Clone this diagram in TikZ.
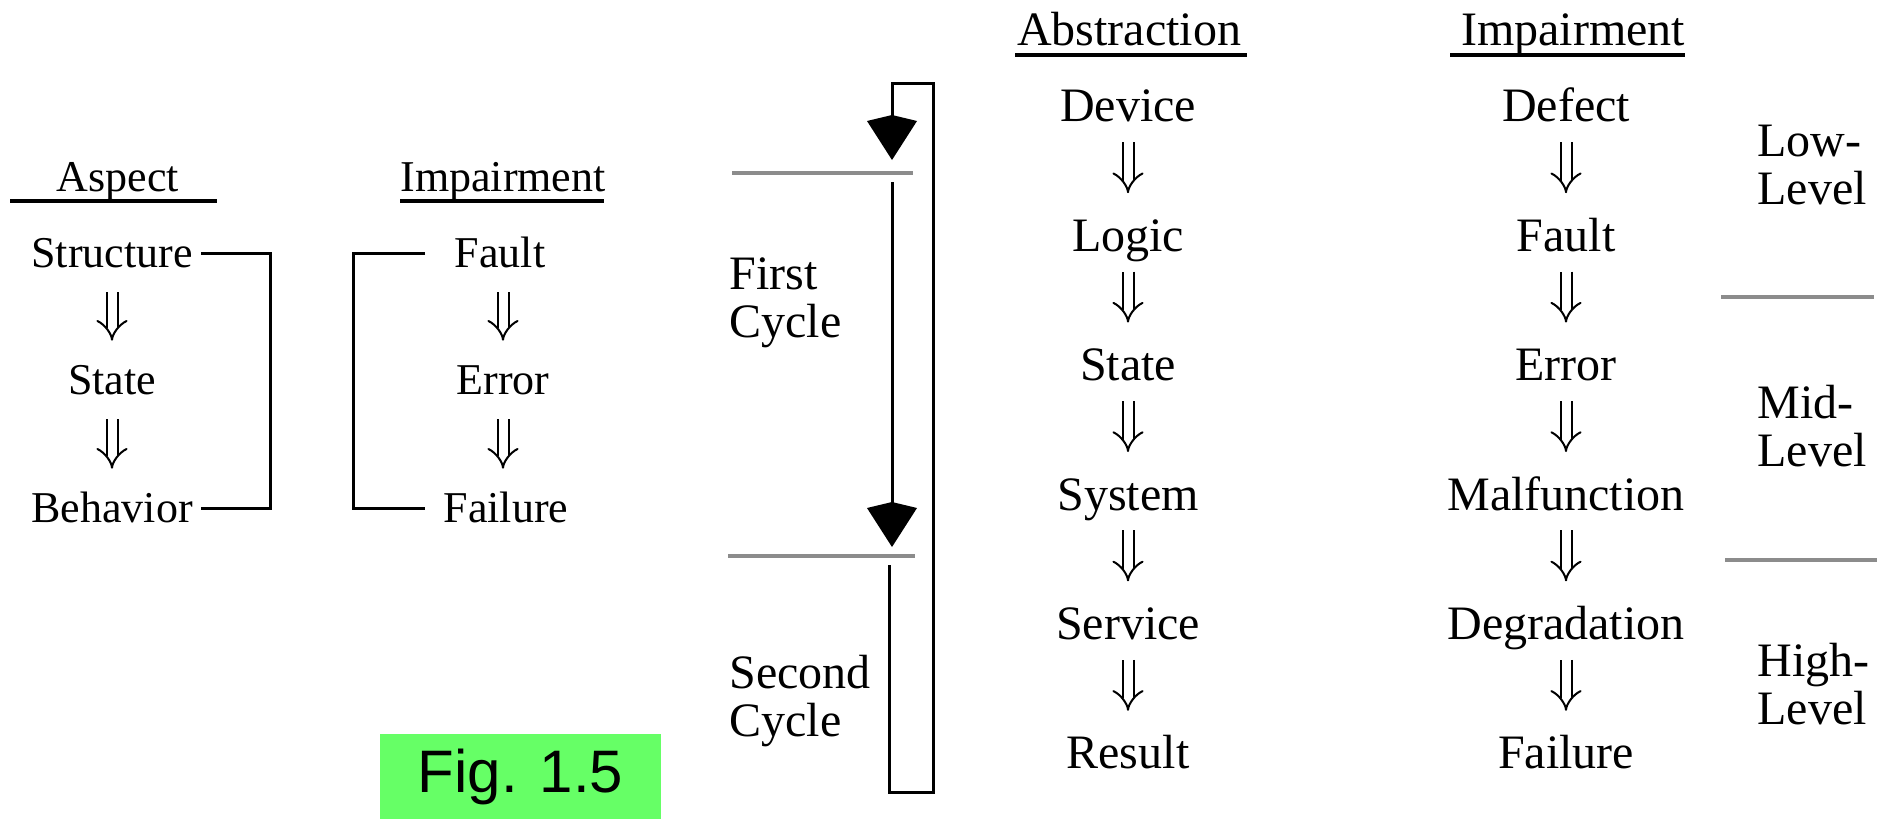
\documentclass[tikz,border=0pt]{standalone}
\usepackage{fontspec}
\setmainfont{Liberation Serif}
\newfontfamily\figfont{Liberation Sans}
\usetikzlibrary{arrows.meta,calc}

\definecolor{figgreen}{HTML}{66FF66}

\tikzset{
  word/.style={inner sep=0pt, text depth=0pt},
  lword/.style={word, text height=14.5pt, font=\fontsize{22}{22}\selectfont},
  rword/.style={word, text height=15.8pt, font=\fontsize{24}{24}\selectfont},
  imply/.style={double, double distance=4.5pt, line width=1pt, -{Implies}},
  limply/.style={imply, shorten <=12.2pt, shorten >=12.2pt},
  rimply/.style={imply, shorten <=10pt, shorten >=13pt},
  rule/.style={line width=1.7pt},
  bracket/.style={line width=1.5pt},
  sep/.style={line width=2pt, black!45},
  cycle line/.style={line width=1.5pt, -{Kite[length=22.5pt,width=25pt,inset=3pt]}},
  level/.style={align=left, anchor=west, inner sep=0pt, font=\fontsize{24}{24}\selectfont},
}

\begin{document}
\begin{tikzpicture}[x=0.5pt, y=-0.5pt]
\useasboundingbox (0,0) rectangle (1887,819);

% left pair of columns
\node[lword] (asp) at (118,177) {Aspect};
\draw[rule] (10,201) -- (217,201);
\node[lword] (str) at (112,253) {Structure};
\node[lword] (sta) at (112,380) {State};
\node[lword] (beh) at (112,508) {Behavior};
\draw[limply] (str) -- (sta);
\draw[limply] (sta) -- (beh);

\node[lword] (imp) at (503,177) {Impairment};
\draw[rule] (400,201) -- (604,201);
\node[lword] (flt) at (500,253) {Fault};
\node[lword] (err) at (503,380) {Error};
\node[lword] (fail) at (506,508) {Failure};
\draw[limply] (flt.south -| err.north) -- (err.north);
\draw[limply] (err.south) -- (err.south |- fail.north);

% brackets
\coordinate (brAin) at (201,0);
\coordinate (brA) at (270,0);
\coordinate (brB) at (353,0);
\coordinate (brBin) at (425,0);
\draw[bracket] (str -| brAin) -- (str -| brA) -- (beh -| brA) -- (beh -| brAin);
\draw[bracket] (flt -| brBin) -- (flt -| brB) -- (fail -| brB) -- (fail -| brBin);

% cycles
\draw[sep] (732,173) -- (913,173);
\draw[sep] (728,556) -- (915,556);
\node[level] (first) at (729,303) {First\\Cycle};
\node[level] (second) at (729,701) {Second\\Cycle};
\coordinate (c1) at (892,182);
\coordinate (c1e) at (892,547);
\coordinate (c2) at (889,565);
\coordinate (lpBL) at (889,792);
\coordinate (lpBR) at (933,792);
\coordinate (lpTR) at (933,83);
\coordinate (lpTL) at (892,83);
\coordinate (c0e) at (892,160);
\draw[cycle line] (c1) -- (c1e);
\draw[cycle line] (c2) -- (lpBL) -- (lpBR) -- (lpTR) -- (lpTL) -- (c0e);

% abstraction column
\node[rword] (abs) at (1129,30) {Abstraction};
\draw[rule] (1015,55) -- (1247,55);
\foreach \w [count=\i] in {Device,Logic,State,System,Service,Result}
  \node[rword] (ab\i) at (1128,{106+129.4*(\i-1)}) {\w};
\foreach \i in {1,...,5} {
  \pgfmathtruncatemacro{\j}{\i+1}
  \draw[rimply] (ab\i) -- (ab\j);
}

% impairment column
\node[rword] (imr) at (1573,30) {Impairment};
\draw[rule] (1450,55) -- (1685,55);
\foreach \w [count=\i] in {Defect,Fault,Error,Malfunction,Degradation,Failure}
  \node[rword] (im\i) at (1566,{106+129.4*(\i-1)}) {\w};
\foreach \i in {1,...,5} {
  \pgfmathtruncatemacro{\j}{\i+1}
  \draw[rimply] (im\i) -- (im\j);
}

% levels
\draw[sep] (1721,297) -- (1874,297);
\draw[sep] (1725,560) -- (1877,560);
\node[level] (low) at (1757,165) {Low-\\Level};
\node[level] (mid) at (1757,426) {Mid-\\Level};
\node[level] (high) at (1757,684) {High-\\Level};

% figure tag
\node[fill=figgreen, minimum width=140.5pt, minimum height=42.5pt, inner sep=0pt,
  font=\figfont\fontsize{30}{30}\selectfont] (fig) at (520.5,776.5) {Fig. 1.5};
\end{tikzpicture}
\end{document}
